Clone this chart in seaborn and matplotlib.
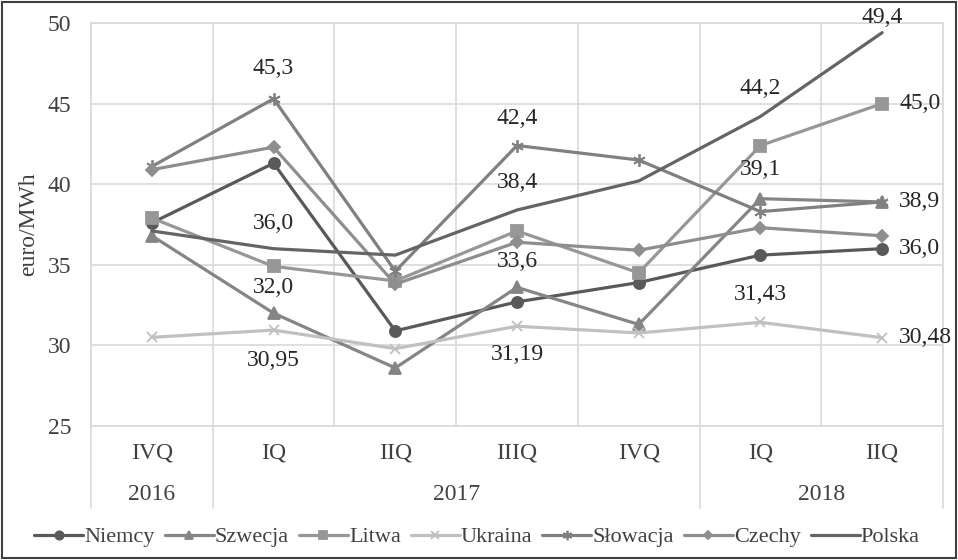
import matplotlib
matplotlib.use("Agg")
import matplotlib.pyplot as plt
import matplotlib.transforms as mtransforms
from matplotlib.patches import Rectangle
import seaborn as sns
import pandas as pd

# data
quarters = ["IVQ", "IQ", "IIQ", "IIIQ", "IVQ", "IQ", "IIQ"]
years = ["2016", "2017", "2018"]
year_span = [(0, 0), (1, 4), (5, 6)]

niemcy = [37.6, 41.3, 30.9, 32.7, 33.9, 35.6, 36.0]
szwecja = [36.8, 32.0, 28.6, 33.6, 31.3, 39.1, 38.9]
litwa = [37.9, 34.9, 34.0, 37.1, 34.5, 42.4, 45.0]
ukraina = [30.5, 30.95, 29.8, 31.19, 30.77, 31.43, 30.48]
slowacja = [41.1, 45.3, 34.6, 42.4, 41.5, 38.3, 38.9]
czechy = [40.9, 42.3, 33.8, 36.4, 35.9, 37.3, 36.8]
polska = [37.1, 36.0, 35.6, 38.4, 40.2, 44.2, 49.4]

series = {
    "Niemcy": niemcy,
    "Szwecja": szwecja,
    "Litwa": litwa,
    "Ukraina": ukraina,
    "Słowacja": slowacja,
    "Czechy": czechy,
    "Polska": polska,
}

# style per series: colour, marker, marker size
styles = {
    "Niemcy": ("#595959", "o", 8),
    "Szwecja": ("#858585", "^", 8),
    "Litwa": ("#979797", "s", 8),
    "Ukraina": ("#c0c0c0", "x", 7),
    "Słowacja": ("#808080", (6, 2, 0), 9),
    "Czechy": ("#8e8e8e", "D", 6),
    "Polska": ("#646464", None, 0),
}

# data labels: (series, index, dx px, dy px, ha)
labels = [
    ("Słowacja", 1, 0, 30, "center"),
    ("Polska", 1, 0, 25, "center"),
    ("Szwecja", 1, 0, 26, "center"),
    ("Ukraina", 1, 0, -30, "center"),
    ("Słowacja", 3, 0, 27, "center"),
    ("Polska", 3, 0, 27, "center"),
    ("Szwecja", 3, 0, 26, "center"),
    ("Ukraina", 3, 0, -28, "center"),
    ("Polska", 5, 0, 28, "center"),
    ("Szwecja", 5, 0, 29, "center"),
    ("Ukraina", 5, 0, 28, "center"),
    ("Polska", 6, 0, 15, "center"),
    ("Litwa", 6, 17, 0, "left"),
    ("Słowacja", 6, 17, 0, "left"),
    ("Niemcy", 6, 17, 0, "left"),
    ("Ukraina", 6, 17, 0, "left"),
]

rows = []
for name, vals in series.items():
    for i, v in enumerate(vals):
        rows.append({"kraj": name, "poz": i, "cena": v})
df = pd.DataFrame(rows)

sns.set_style("white")
plt.rcParams["font.family"] = ["Liberation Serif", "DejaVu Serif"]
text_col = "#404040"
grid_col = "#d9d9d9"
fs = 17

fig = plt.figure(figsize=(9.58, 5.6), dpi=100)
ax = fig.add_axes([91 / 958, 1 - 426 / 560, (943 - 91) / 958, (426 - 23) / 560])

for name in series:
    col, mk, ms = styles[name]
    sub = df[df["kraj"] == name]
    sns.lineplot(data=sub, x="poz", y="cena", ax=ax, color=col, marker=mk,
                 markersize=ms, markeredgecolor=col, markeredgewidth=1.3,
                 linewidth=2.3, label=name, clip_on=False, zorder=3)

for name, i, dx, dy, ha in labels:
    v = series[name][i]
    txt = (f"{v:.2f}" if name == "Ukraina" else f"{v:.1f}").replace(".", ",")
    ax.annotate(txt, (i, v), xytext=(dx, dy), textcoords="offset pixels",
                ha=ha, va="center", fontsize=fs, color="#262626", zorder=5)

ax.set_xlim(-0.5, 6.5)
ax.set_ylim(25, 50)
ax.set_yticks([25, 30, 35, 40, 45, 50])
ax.set_yticklabels(["25", "30", "35", "40", "45", "50"], fontsize=fs, color=text_col)
ax.set_xticks([x + 0.5 for x in range(-1, 7)])
ax.set_xticklabels([])
ax.tick_params(length=0, pad=14)
ax.grid(True, color=grid_col, linewidth=1.2)
for s in ax.spines.values():
    s.set_color(grid_col)
    s.set_linewidth(1.2)
ax.set_xlabel("")
ax.set_ylabel("euro/MWh", fontsize=fs, color=text_col, labelpad=6)

# two-level category axis
trans = mtransforms.blended_transform_factory(ax.transData, ax.transAxes)
for i, q in enumerate(quarters):
    ax.text(i, -0.067, q, transform=trans, ha="center", va="center",
            fontsize=fs, color=text_col)
for yr, (a, b) in zip(years, year_span):
    ax.text((a + b) / 2, -0.171, yr, transform=trans, ha="center", va="center",
            fontsize=fs, color=text_col)
for xb in [-0.5, 0.5, 4.5, 6.5]:
    ax.plot([xb, xb], [0, -0.203], transform=trans, color=grid_col,
            linewidth=1.2, clip_on=False)

leg = ax.legend(loc="center", bbox_to_anchor=(477 / 958, 1 - 537 / 560),
                bbox_transform=fig.transFigure, ncol=7, markerscale=0.75,
                frameon=False, fontsize=16, handlelength=2.2, handletextpad=0.05,
                columnspacing=0.45, borderaxespad=0)
for t in leg.get_texts():
    t.set_color(text_col)

fig.patches.append(Rectangle((0.002, 0.003), 0.996, 0.994, transform=fig.transFigure,
                             fill=False, edgecolor="#404040", linewidth=1.5))

fig.savefig("out.png", dpi=100)
